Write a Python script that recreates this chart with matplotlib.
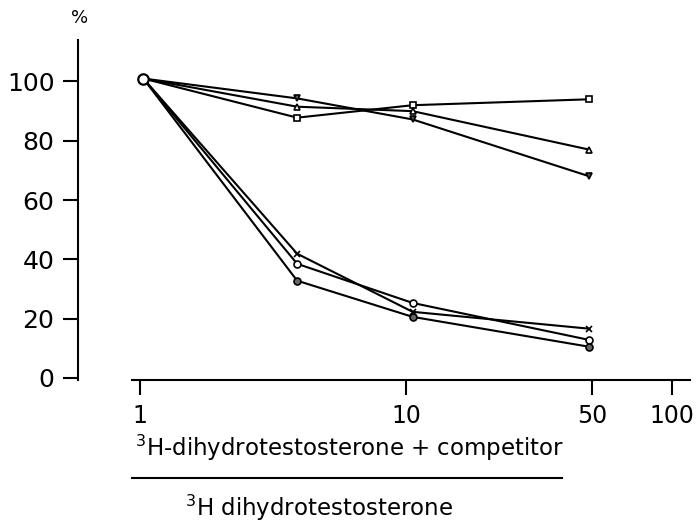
import matplotlib
matplotlib.use('Agg')
import matplotlib.pyplot as plt

# ratio (3H-DHT + competitor) / 3H-DHT
ratio = [1.03, 3.9, 10.6, 49]

# percent bound
square_pct = [101, 87.8, 92.0, 94.0]
tri_up_pct = [101, 91.5, 90.0, 77.0]
tri_down_pct = [101, 94.3, 87.2, 68.0]
cross_pct = [101, 41.9, 22.3, 16.6]
open_circle_pct = [101, 38.5, 25.3, 12.8]
filled_circle_pct = [101, 32.8, 20.6, 10.5]

y_ticks = [0, 20, 40, 60, 80, 100]
x_ticks = [1, 10, 50, 100]
x_tick_labels = ['1', '10', '50', '100']

plt.rcParams['font.family'] = ['DejaVu Sans']

fig = plt.figure(figsize=(6.98, 5.31), dpi=100)
# axes box: x 78..690 px, y 40..380 px
ax = fig.add_axes([78 / 698, 1 - 380 / 531, 612 / 698, 340 / 531])

series = [
    (square_pct, 's', 'white'),
    (tri_up_pct, '^', 'white'),
    (tri_down_pct, 'v', '#555555'),
    (cross_pct, 'x', 'white'),
    (open_circle_pct, 'o', 'white'),
    (filled_circle_pct, 'o', '#666666'),
]
for values, marker, face in series:
    ax.plot(ratio, values, color='black', linewidth=1.5, marker=marker,
            markersize=5, markerfacecolor=face, markeredgecolor='black',
            markeredgewidth=1.2, markevery=slice(1, None), zorder=3)

# shared starting point
ax.plot(ratio[0], square_pct[0], marker='o', markersize=7.5,
        markerfacecolor='white', markeredgecolor='black',
        markeredgewidth=1.6, zorder=4)

ax.set_xscale('log')
ax.set_xlim(0.585, 117)
ax.set_ylim(-0.7, 114)

ax.spines['top'].set_visible(False)
ax.spines['right'].set_visible(False)
ax.spines['left'].set_linewidth(1.5)
ax.spines['bottom'].set_linewidth(1.5)
ax.spines['bottom'].set_bounds(0.935, 117)

ax.set_yticks(y_ticks)
ax.set_yticklabels([str(v) for v in y_ticks], fontsize=18)
ax.set_xticks(x_ticks)
ax.set_xticklabels(x_tick_labels, fontsize=17)
ax.xaxis.set_minor_locator(matplotlib.ticker.NullLocator())
ax.tick_params(axis='y', direction='out', length=11, width=1.5, pad=6)
ax.tick_params(axis='x', direction='out', length=11, width=1.5, pad=6)

fig.text(80 / 698, 1 - 18 / 531, '%', fontsize=13, ha='center', va='center')

fig.text(135 / 698, 1 - 456 / 531,
         r'$^{3}$H-dihydrotestosterone + competitor',
         fontsize=16.5, ha='left', va='baseline')
fig.add_artist(matplotlib.lines.Line2D([132 / 698, 562 / 698],
                                       [1 - 478 / 531, 1 - 478 / 531],
                                       color='black', linewidth=1.5))
fig.text(185 / 698, 1 - 516 / 531, r'$^{3}$H dihydrotestosterone',
         fontsize=16.5, ha='left', va='baseline')

fig.savefig('out.png', dpi=100)
